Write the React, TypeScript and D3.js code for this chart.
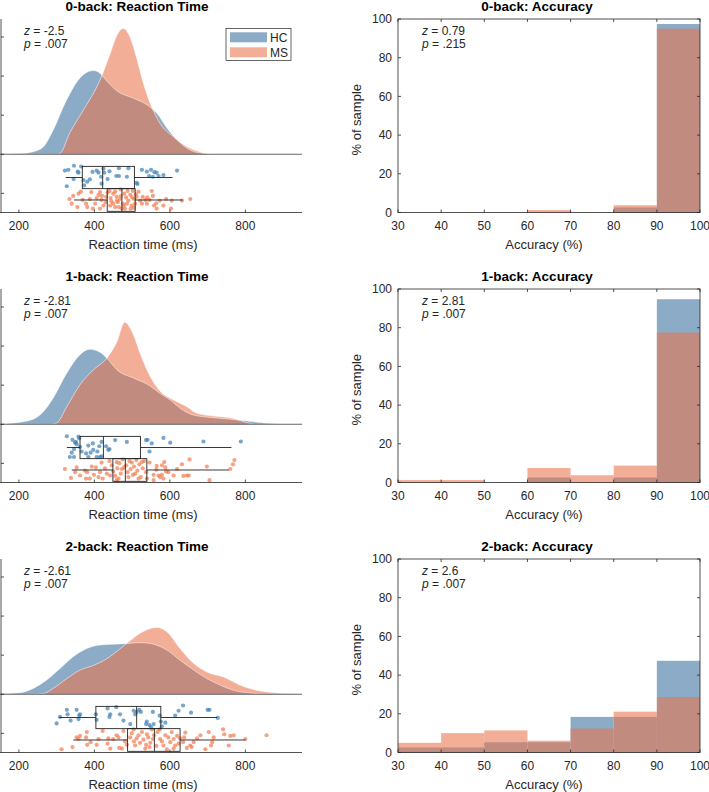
import React from 'react';
import * as d3 from 'd3';

const W = 709;
const H = 792;

// ---------- text ----------
const titlesRT = ['0-back: Reaction Time', '1-back: Reaction Time', '2-back: Reaction Time'];
const titlesAcc = ['0-back: Accuracy', '1-back: Accuracy', '2-back: Accuracy'];
const zRT = ['-2.5', '-2.81', '-2.61'];
const pRT = ['.007', '.007', '.007'];
const zAcc = ['0.79', '2.81', '2.6'];
const pAcc = ['.215', '.007', '.007'];
const groups = ['HC', 'MS'];

// ---------- ticks ----------
const rtTicks = [200, 400, 600, 800];
const densTicks = [-1, 0, 1, 2, 3];
const accTicks = [30, 40, 50, 60, 70, 80, 90, 100];
const pctTicks = [0, 20, 40, 60, 80, 100];

// ---------- densities [rt ms, density (a.u.)] ----------
const hcDens0 = [[150, 0], [200, 0.01], [240, 0.07], [265, 0.19], [291, 0.62], [326, 1.38], [361, 1.94], [397, 2.14], [415, 2.07], [424, 1.97], [460, 1.62], [504, 1.43], [540, 1.26], [566, 1.04], [593, 0.66], [620, 0.36], [646, 0.15], [680, 0.03], [720, 0], [950, 0]];
const msDens0 = [[150, 0], [300, 0], [309, 0.02], [335, 0.55], [371, 1.13], [415, 1.9], [442, 2.58], [460, 3.05], [476, 3.22], [494, 3.01], [511, 2.5], [530, 1.81], [548, 1.3], [574, 0.79], [610, 0.44], [646, 0.19], [680, 0.06], [715, 0], [950, 0]];
const hcDens1 = [[150, 0], [185, 0.03], [238, 0.13], [265, 0.32], [291, 0.67], [327, 1.31], [362, 1.78], [388, 1.92], [415, 1.84], [433, 1.69], [460, 1.39], [504, 1.18], [539, 1.03], [574, 0.79], [601, 0.62], [627, 0.41], [660, 0.24], [700, 0.18], [760, 0.13], [800, 0.09], [850, 0.03], [900, 0], [950, 0]];
const msDens1 = [[150, 0], [285, 0], [300, 0.03], [327, 0.45], [362, 1.01], [398, 1.4], [433, 1.69], [460, 2.12], [480, 2.61], [504, 2.28], [521, 1.82], [548, 1.22], [574, 0.85], [610, 0.62], [645, 0.45], [672, 0.28], [716, 0.21], [769, 0.15], [804, 0.04], [830, 0], [950, 0]];
const hcDens2 = [[150, 0.01], [203, 0.04], [238, 0.15], [273, 0.36], [309, 0.66], [344, 0.96], [380, 1.17], [415, 1.26], [450, 1.28], [490, 1.3], [521, 1.32], [548, 1.3], [592, 1.13], [627, 0.87], [663, 0.62], [698, 0.4], [734, 0.23], [769, 0.1], [813, 0.03], [850, 0.01], [950, 0]];
const msDens2 = [[150, 0], [230, 0], [265, 0.02], [291, 0.15], [327, 0.4], [362, 0.62], [398, 0.74], [433, 0.91], [469, 1.17], [496, 1.38], [521, 1.56], [548, 1.68], [566, 1.71], [592, 1.6], [627, 1.17], [663, 0.79], [698, 0.57], [743, 0.44], [787, 0.23], [831, 0.1], [884, 0.03], [946, 0], [950, 0]];

// ---------- raw points [rt ms, jitter fraction within band] ----------
const hcDots0 = [[322, .24], [331, .21], [346, .04], [356, .29], [365, .07], [358, .33], [406, .24], [411, .33], [424, .16], [426, .33], [440, .27], [465, .14], [490, .14], [526, .21], [539, .29], [550, .21], [559, .31], [565, .33], [619, .24], [371, .64], [381, .71], [388, .61], [418, .5], [458, .47], [465, .47], [486, .5], [512, .76], [545, .47], [555, .5], [570, .47], [583, .43], [327, .9], [373, .86], [419, .79], [514, .8], [395, .3], [435, .6], [345, .6]];
const msDots0 = [[334, .5], [340, .71], [344, .36], [355, .86], [358, .26], [364, .17], [369, .54], [378, .71], [381, .86], [388, .5], [396, .93], [402, .71], [406, .46], [411, .31], [415, .19], [419, .54], [424, .79], [431, .4], [435, .21], [440, .14], [443, .46], [450, .26], [455, .17], [459, .4], [462, .64], [465, .86], [468, .5], [473, .93], [479, .26], [484, .43], [488, .14], [490, .57], [495, .31], [499, .79], [502, .14], [505, .5], [508, .71], [512, .4], [517, .17], [521, .57], [526, .71], [535, .54], [539, .71], [546, .54], [552, .14], [555, .36], [558, .79], [564, .69], [565, .93], [573, .57], [583, .79], [590, .5], [603, .93], [605, .57], [632, .57], [654, .5], [442, .79], [475, .71], [481, .93], [496, .93], [415, .93], [455, .86], [470, .36], [430, .64], [510, .29], [445, .61], [486, .71], [528, .4], [392, .19], [500, .43], [460, .57], [478, .79], [540, .43], [420, .36], [450, .71], [470, .07], [505, .9]];
const hcDots1 = [[327, .06], [342, .21], [349, .33], [353, .4], [358, .07], [360, .15], [351, .3], [362, .51], [335, .93], [346, .93], [366, .7], [378, .78], [384, .45], [390, .75], [396, .36], [406, .93], [415, .93], [419, .3], [419, .9], [431, .48], [437, .63], [455, .22], [440, .6], [486, .3], [537, .22], [541, .21], [552, .36], [546, .7], [583, .13], [601, .33], [689, .28], [788, .28], [413, .48], [346, .6], [397, .63], [384, .93], [408, .7], [340, .75]];
const msDots1 = [[322, .5], [338, .9], [353, .43], [362, .79], [378, .93], [381, .64], [393, .39], [399, .76], [404, .43], [411, .86], [415, .64], [422, .93], [428, .47], [433, .71], [440, .14], [446, .33], [450, .61], [455, .81], [459, .19], [461, .47], [466, .24], [470, .71], [475, .07], [479, .43], [484, .33], [488, .64], [493, .14], [496, .5], [499, .21], [502, .76], [505, .39], [511, .1], [514, .57], [519, .29], [523, .86], [528, .47], [532, .14], [537, .64], [546, .21], [557, .76], [564, .53], [570, .79], [574, .86], [579, .76], [583, .93], [585, .19], [588, .43], [590, .61], [610, .79], [632, .29], [636, .81], [645, .79], [652, .07], [698, .39], [705, 1], [760, .5], [767, .29], [771, .1], [349, .64], [375, .57], [419, .21], [442, .79], [464, .93], [473, .5], [490, .86], [508, .71], [517, .93], [526, .19], [539, .93], [565, .36], [579, .33], [596, .64], [619, .5], [650, .79], [557, 1], [388, .93], [459, 1]];
const hcDots2 = [[300, .78], [309, .51], [327, .21], [329, .4], [337, .66], [353, .21], [358, .6], [360, .45], [362, .4], [404, .4], [406, .63], [435, .15], [440, .51], [442, .4], [458, .1], [468, .4], [477, .66], [495, .81], [504, .25], [508, .4], [512, .3], [519, .21], [523, .3], [537, .81], [539, .7], [546, .85], [550, .93], [555, .3], [557, .81], [573, .45], [576, .7], [579, .9], [588, .75], [614, .45], [623, .25], [635, .03], [656, .33], [700, .21], [705, .21], [727, .55]];
const msDots2 = [[313, .96], [342, .86], [353, .43], [358, .5], [362, .36], [378, .43], [380, .19], [381, .76], [390, .64], [406, .76], [411, .5], [422, .14], [435, .71], [437, .47], [442, .93], [450, .5], [459, .33], [464, .43], [466, .9], [477, .14], [481, .61], [486, .76], [495, .43], [499, .24], [504, .07], [505, .61], [508, .79], [512, .47], [517, .33], [521, .67], [526, .19], [530, .53], [535, .93], [537, .76], [539, .29], [543, .43], [548, .67], [552, .07], [555, .5], [558, .33], [564, .81], [567, .19], [573, .07], [574, .5], [579, .61], [583, .79], [588, .33], [592, .96], [596, .43], [601, .64], [605, .19], [610, .5], [614, .79], [619, .36], [623, .71], [627, .47], [635, .64], [638, .43], [641, .21], [645, .9], [654, .79], [658, .86], [663, .64], [672, .47], [681, .33], [694, .96], [703, .19], [712, .64], [709, .79], [716, .43], [741, .07], [744, .29], [756, .79], [760, .36], [769, .33], [800, .5], [856, .33], [473, .93], [546, .86], [610, .93]];

// ---------- box stats [whisker low, q1, median, q3, whisker high] ----------
const hcBox = [[324, 368, 422, 506, 607], [327, 362, 424, 522, 763], [307, 404, 512, 576, 725]];
const msBox = [[346, 434, 473, 508, 634], [340, 449, 482, 539, 756], [344, 488, 559, 627, 800]];

// ---------- accuracy histograms (% of sample per bin) ----------
const accBins = [30, 40, 50, 60, 70, 80, 90, 100];
const accHC0 = [0, 0, 0, 0, 0, 2.6, 97.4];
const accMS0 = [0, 0, 0, 1.25, 0, 3.75, 95.0];
const accHC1 = [0, 0, 0, 2.6, 0, 2.6, 94.7];
const accMS1 = [1.25, 1.25, 0, 7.5, 3.75, 8.75, 77.5];
const accHC2 = [2.6, 2.6, 5.3, 5.3, 18.4, 18.4, 47.4];
const accMS2 = [5.0, 10.0, 11.4, 6.1, 12.4, 21.1, 28.7];

// ---------- style ----------
const FONT = '"Liberation Sans", Arial, Helvetica, sans-serif';
const AX = '#262626';
const HC_FILL = 'rgb(139,171,199)';
const MS_FILL = 'rgb(235,115,75)';
const MS_OPA = 0.58;
const HC_DOT = '#3f7fb4';
const MS_DOT = '#ef7a4e';

const rowTop = [19, 289, 559];
const PH = 193.5;
const L = { x0: 0, x1: 302 };
const R = { x0: 398, x1: 700 };

const dens = [[hcDens0, msDens0], [hcDens1, msDens1], [hcDens2, msDens2]];
const dots = [[hcDots0, msDots0], [hcDots1, msDots1], [hcDots2, msDots2]];
const hist = [[accHC0, accMS0], [accHC1, accMS1], [accHC2, accMS2]];

const hcBand = [-0.27, -0.88];
const msBand = [-0.86, -1.43];
const hcBoxY = [-0.31, -0.88];
const msBoxY = [-0.88, -1.46];

function StatText({ x, y, z, p }: any) {
  return (
    <g fontFamily={FONT} fontSize={12} fill={AX}>
      <text x={x} y={y}>
        <tspan fontStyle="italic">z</tspan> = {z}
      </text>
      <text x={x} y={y + 13.5}>
        <tspan fontStyle="italic">p</tspan> = {p}
      </text>
    </g>
  );
}

function RainPanel({ row }: { row: number }) {
  const top = rowTop[row];
  const x = d3.scaleLinear().domain([150, 950]).range([L.x0, L.x1]);
  const y = d3.scaleLinear().domain([-1.49, 3.46]).range([top + PH, top]);
  const area = d3
    .area<number[]>()
    .x((d) => x(d[0]))
    .y0(y(0))
    .y1((d) => y(d[1]))
    .curve(d3.curveMonotoneX);
  const line = d3
    .line<number[]>()
    .x((d) => x(d[0]))
    .y((d) => y(d[1]))
    .curve(d3.curveMonotoneX);
  const [hcD, msD] = dens[row];
  const [hcP, msP] = dots[row];
  const bottom = top + PH;

  const box = (s: number[], by: number[], key: string) => {
    const yt = y(by[0]);
    const yb = y(by[1]);
    const ym = (yt + yb) / 2;
    return (
      <g key={key} stroke="#222" strokeWidth={0.9} fill="none">
        <line x1={x(s[0])} x2={x(s[1])} y1={ym} y2={ym} />
        <line x1={x(s[3])} x2={x(s[4])} y1={ym} y2={ym} />
        <rect x={x(s[1])} y={yt} width={x(s[3]) - x(s[1])} height={yb - yt} />
        <line x1={x(s[2])} x2={x(s[2])} y1={yt} y2={yb} />
      </g>
    );
  };

  return (
    <g>
      <path d={area(hcD) || ''} fill={HC_FILL} />
      <path d={area(msD) || ''} fill={MS_FILL} fillOpacity={MS_OPA} />
      <path d={line(hcD) || ''} fill="none" stroke="#fff" strokeOpacity={0.6} strokeWidth={0.8} />
      <path d={line(msD) || ''} fill="none" stroke="#fff" strokeOpacity={0.7} strokeWidth={0.8} />
      <line x1={L.x0} x2={L.x1} y1={y(0)} y2={y(0)} stroke="#666" strokeWidth={1} />
      {hcP.map((d, i) => (
        <circle key={'h' + i} cx={x(d[0])} cy={y(hcBand[0] + d[1] * (hcBand[1] - hcBand[0]))} r={2.1} fill={HC_DOT} fillOpacity={0.7} />
      ))}
      {msP.map((d, i) => (
        <circle key={'m' + i} cx={x(d[0])} cy={y(msBand[0] + d[1] * (msBand[1] - msBand[0]))} r={2.1} fill={MS_DOT} fillOpacity={0.7} />
      ))}
      {box(hcBox[row], hcBoxY, 'hb')}
      {box(msBox[row], msBoxY, 'mb')}
      {/* axes */}
      <line x1={L.x0 + 1} x2={L.x0 + 1} y1={top} y2={bottom} stroke={AX} strokeWidth={0.8} />
      <line x1={L.x0} x2={L.x1} y1={bottom} y2={bottom} stroke={AX} strokeWidth={0.8} />
      {densTicks.map((t) => (
        <line key={'yt' + t} x1={L.x0 + 1} x2={L.x0 + 4} y1={y(t)} y2={y(t)} stroke={AX} strokeWidth={0.8} />
      ))}
      {rtTicks.map((t) => (
        <g key={'xt' + t}>
          <line x1={x(t)} x2={x(t)} y1={bottom} y2={bottom - 3} stroke={AX} strokeWidth={0.8} />
          <text x={x(t)} y={bottom + 17} textAnchor="middle" fontFamily={FONT} fontSize={12} fill={AX}>
            {t}
          </text>
        </g>
      ))}
      <text x={143} y={bottom + 36} textAnchor="middle" fontFamily={FONT} fontSize={13} fill={AX}>
        Reaction time (ms)
      </text>
      <text x={137} y={top - 8} textAnchor="middle" fontFamily={FONT} fontSize={13.5} fontWeight="bold" fill="#000">
        {titlesRT[row]}
      </text>
      <StatText x={24} y={top + 15.5} z={zRT[row]} p={pRT[row]} />
      {row === 0 && (
        <g fontFamily={FONT} fontSize={12} fill={AX}>
          <rect x={226} y={28.5} width={65} height={32} fill="#fff" stroke={AX} strokeWidth={0.7} />
          <rect x={230} y={32.3} width={37} height={10} fill={HC_FILL} />
          <rect x={230} y={47.3} width={37} height={10} fill={MS_FILL} fillOpacity={MS_OPA} />
          <text x={270} y={41.5}>{groups[0]}</text>
          <text x={270} y={56.5}>{groups[1]}</text>
        </g>
      )}
    </g>
  );
}

function HistPanel({ row }: { row: number }) {
  const top = rowTop[row];
  const bottom = top + PH;
  const x = d3.scaleLinear().domain([30, 100]).range([R.x0, R.x1]);
  const y = d3.scaleLinear().domain([0, 100]).range([bottom, top]);
  const [hc, ms] = hist[row];
  const bars = (vals: number[], fill: string, opa: number, key: string) =>
    vals.map((v, i) =>
      v > 0 ? (
        <rect
          key={key + i}
          x={x(accBins[i])}
          y={y(v)}
          width={x(accBins[i + 1]) - x(accBins[i])}
          height={y(0) - y(v)}
          fill={fill}
          fillOpacity={opa}
        />
      ) : null
    );
  return (
    <g>
      {bars(hc, HC_FILL, 1, 'h')}
      {bars(ms, MS_FILL, MS_OPA, 'm')}
      <rect x={R.x0} y={top} width={R.x1 - R.x0} height={PH} fill="none" stroke={AX} strokeWidth={0.8} />
      {accTicks.map((t) => (
        <g key={'xt' + t}>
          <line x1={x(t)} x2={x(t)} y1={bottom} y2={bottom - 3} stroke={AX} strokeWidth={0.8} />
          <line x1={x(t)} x2={x(t)} y1={top} y2={top + 3} stroke={AX} strokeWidth={0.8} />
          <text x={x(t)} y={bottom + 17} textAnchor="middle" fontFamily={FONT} fontSize={12} fill={AX}>
            {t}
          </text>
        </g>
      ))}
      {pctTicks.map((t) => (
        <g key={'yt' + t}>
          <line x1={R.x0} x2={R.x0 + 3} y1={y(t)} y2={y(t)} stroke={AX} strokeWidth={0.8} />
          <line x1={R.x1} x2={R.x1 - 3} y1={y(t)} y2={y(t)} stroke={AX} strokeWidth={0.8} />
          <text x={R.x0 - 6} y={y(t) + 4.3} textAnchor="end" fontFamily={FONT} fontSize={12} fill={AX}>
            {t}
          </text>
        </g>
      ))}
      <text
        transform={`translate(${361},${(top + bottom) / 2 + 4}) rotate(-90)`}
        textAnchor="middle"
        fontFamily={FONT}
        fontSize={13}
        fill={AX}
      >
        % of sample
      </text>
      <text x={544} y={bottom + 36} textAnchor="middle" fontFamily={FONT} fontSize={13} fill={AX}>
        Accuracy (%)
      </text>
      <text x={537} y={top - 8} textAnchor="middle" fontFamily={FONT} fontSize={13.5} fontWeight="bold" fill="#000">
        {titlesAcc[row]}
      </text>
      <StatText x={422} y={top + 15.5} z={zAcc[row]} p={pAcc[row]} />
    </g>
  );
}

export default function App() {
  return (
    <svg
      width={W}
      height={H}
      viewBox={`0 0 ${W} ${H}`}
      style={{ position: 'absolute', left: 0, top: 0, background: '#fff' }}
    >
      <rect width={W} height={H} fill="#fff" />
      {[0, 1, 2].map((r) => (
        <g key={r}>
          <RainPanel row={r} />
          <HistPanel row={r} />
        </g>
      ))}
    </svg>
  );
}
